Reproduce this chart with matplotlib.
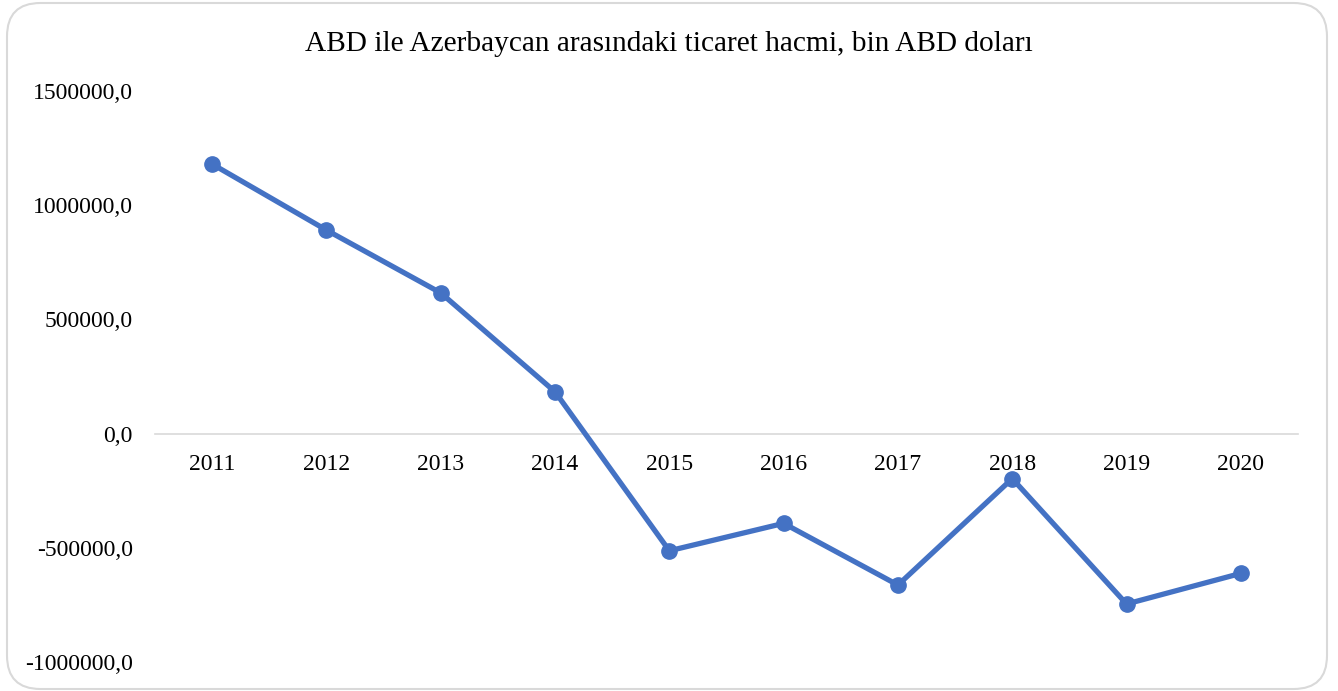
import matplotlib
matplotlib.use("Agg")
import matplotlib.pyplot as plt
from matplotlib.patches import FancyBboxPatch
from matplotlib.ticker import FuncFormatter

years = ["2011", "2012", "2013", "2014", "2015", "2016", "2017", "2018", "2019", "2020"]
trade_volume = [1180000, 891000, 616000, 183000, -513000, -393000, -663000, -197000, -746000, -612000]
y_ticks = [-1000000, -500000, 0, 500000, 1000000, 1500000]
title = "ABD ile Azerbaycan arasındaki ticaret hacmi, bin ABD doları"

plt.rcParams['font.family'] = ['Liberation Serif', 'DejaVu Serif']

W, H = 1338, 691
fig = plt.figure(figsize=(W / 100, H / 100), dpi=100)
fig.patch.set_facecolor('white')

# rounded frame
frame = FancyBboxPatch((7 / W, 1 - 689 / H), (1327 - 7) / W, (689 - 3) / H,
                       boxstyle="round,pad=0,rounding_size=0.025",
                       transform=fig.transFigure, facecolor='none',
                       edgecolor='#D9D9D9', linewidth=1.5, mutation_aspect=W / H)
fig.patches.append(frame)

left, right = 155 / W, 1298 / W
top, bottom = 1 - 91 / H, 1 - 662 / H
ax = fig.add_axes([left, bottom, right - left, top - bottom])
ax.set_facecolor('none')

x = list(range(len(years)))
ax.plot(x, trade_volume, color='#4472C4', linewidth=3.8, marker='o',
        markersize=11, solid_capstyle='round', zorder=3)

ax.set_xlim(-0.5, len(years) - 0.5)
ax.set_ylim(y_ticks[0], y_ticks[-1])
ax.set_yticks(y_ticks)
ax.yaxis.set_major_formatter(FuncFormatter(lambda v, p: f"{v:.1f}".replace('.', ',')))
ax.set_xticks(x)
ax.set_xticklabels(years)

for s in ['top', 'right', 'left']:
    ax.spines[s].set_visible(False)
ax.spines['bottom'].set_position(('data', 0))
ax.spines['bottom'].set_color('#D9D9D9')
ax.spines['bottom'].set_linewidth(1.2)
ax.tick_params(axis='x', length=0, pad=15, labelsize=17, colors='black')
ax.tick_params(axis='y', length=0, pad=16, labelsize=17, colors='black')

fig.text(0.5, 1 - 44 / H, title, ha='center', va='center', fontsize=21.2, color='black')

fig.savefig('out.png', dpi=100, facecolor='white')
